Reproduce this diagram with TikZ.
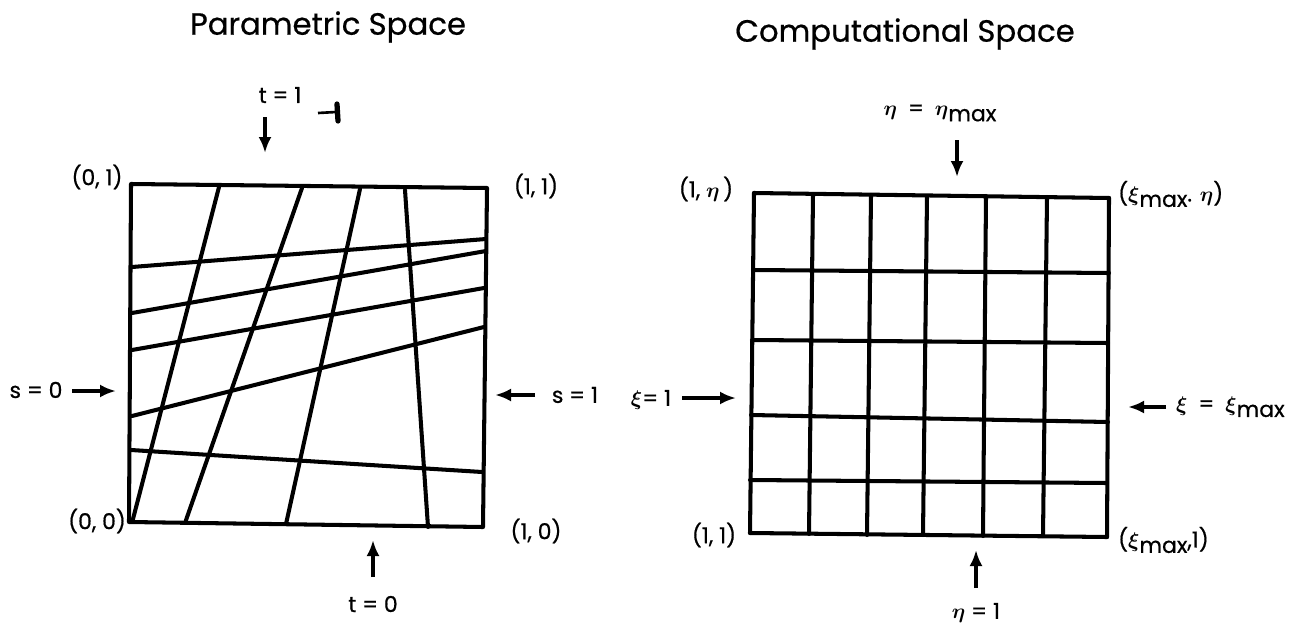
\documentclass[tikz,border=0pt]{standalone}
\usepackage{amsmath}
\usepackage{fontspec}
\setmainfont{Poppins}
\newfontfamily\lblfont{Poppins}[FakeBold=0.6]
\newcommand{\etab}{$\boldsymbol{\eta}$}
\newcommand{\xib}{$\boldsymbol{\xi}$}
\usetikzlibrary{arrows.meta,calc}

\begin{document}
\begin{tikzpicture}[x=0.02cm,y=-0.02cm,>=Latex,
  ttl/.style={font=\lblfont\fontsize{17.5}{20}\selectfont,inner sep=0pt},
  lbl/.style={font=\lblfont\fontsize{12.5}{15}\selectfont,inner sep=1pt},
  arr/.style={-{Latex[length=3.2mm,width=2.6mm]},line width=2.2pt},
  ln/.style={line width=2.3pt,line cap=round,line join=round}]
\useasboundingbox (0,0) rectangle (1314,635);

% titles
\node[ttl] (ptitle) at (328,27) {Parametric Space};
\node[ttl] (ctitle) at (905,34) {Computational Space};

% parametric space: skewed unit square and its lines
\coordinate (pTL) at (131,184); \coordinate (pTR) at (487,188);
\coordinate (pBR) at (483,527); \coordinate (pBL) at (129,522);
\draw[ln] (pTL) -- (pTR) -- (pBR) -- (pBL) -- cycle;
\foreach \xa/\ya/\xb/\yb in {133/519/219/187,185/523/302/188,286/524/360/189,428/527/405/190}
  \draw[ln] (\xa,\ya) -- (\xb,\yb);
\foreach \xa/\ya/\xb/\yb in {132/267/486/239,132/313/486/251,132/350/484/288,132/416/484/327,131/450/482/472}
  \draw[ln] (\xa,\ya) -- (\xb,\yb);

% parametric space: corner labels
\node[lbl] (p01) at (97,177) {(0, 1)};
\node[lbl] (p11) at (536,186) {(1, 1)};
\node[lbl] (p00) at (97,521) {(0, 0)};
\node[lbl] (p10) at (536,531) {(1, 0)};

% parametric space: boundary arrows
\node[lbl] (t1) at (280,95) {t = 1};
\coordinate (t1a) at (265,117); \coordinate (t1b) at (265,153);
\draw[arr] (t1a) -- (t1b);
\draw[line width=1.5pt] (318,113) -- (336,112);
\draw[line width=3pt,line cap=round] (337,104) -- (338,121);
\node[lbl] (t0) at (373,604) {t = 0};
\coordinate (t0a) at (373,577); \coordinate (t0b) at (373,540);
\draw[arr] (t0a) -- (t0b);
\node[lbl] (s0) at (36,390) {s = 0};
\coordinate (s0a) at (72,391); \coordinate (s0b) at (116,391);
\draw[arr] (s0a) -- (s0b);
\node[lbl] (s1) at (575,395) {s = 1};
\coordinate (s1a) at (535,395); \coordinate (s1b) at (495,395);
\draw[arr] (s1a) -- (s1b);

% computational space: uniform-ish grid
\foreach \xa/\ya/\xb/\yb in {754/193/750/533,813/194/809/534,871/195/867/535,927/196/923/535,986/196/983/536,1047/197/1043/536,1109/198/1107/537}
  \draw[ln] (\xa,\ya) -- (\xb,\yb);
\foreach \xa/\ya/\xb/\yb in {754/193/1109/198,753/270/1109/273,752/340/1108/343,751/415/1108/422,750/480/1107/483,750/533/1107/537}
  \draw[ln] (\xa,\ya) -- (\xb,\yb);

% computational space: corner labels
\node[lbl] (c1e) at (706,189) {(1, \etab\,)};
\node[lbl,anchor=west] (cxe) at (1116,194) {(\xib\raisebox{-.45ex}{max}. \etab)};
\node[lbl] (c11) at (714,535) {(1, 1)};
\node[lbl,anchor=west] (cx1) at (1116,540) {(\xib\raisebox{-.45ex}{max},1)};

% computational space: boundary arrows
\node[lbl] (emax) at (940,113) {\etab\enspace=\enspace\etab\raisebox{-.45ex}{max}};
\coordinate (emaxa) at (957,140); \coordinate (emaxb) at (957,177);
\draw[arr] (emaxa) -- (emaxb);
\node[lbl] (e1) at (976,613) {\etab{} = 1};
\coordinate (e1a) at (976,588); \coordinate (e1b) at (976,550);
\draw[arr] (e1a) -- (e1b);
\node[lbl] (x1) at (651,400) {\xib= 1};
\coordinate (x1a) at (682,398); \coordinate (x1b) at (736,398);
\draw[arr] (x1a) -- (x1b);
\node[lbl,anchor=west] (xmax) at (1174,407) {\xib\enspace=\enspace\xib\raisebox{-.45ex}{max}};
\coordinate (xmaxa) at (1166,407); \coordinate (xmaxb) at (1128,407);
\draw[arr] (xmaxa) -- (xmaxb);
\end{tikzpicture}
\end{document}
